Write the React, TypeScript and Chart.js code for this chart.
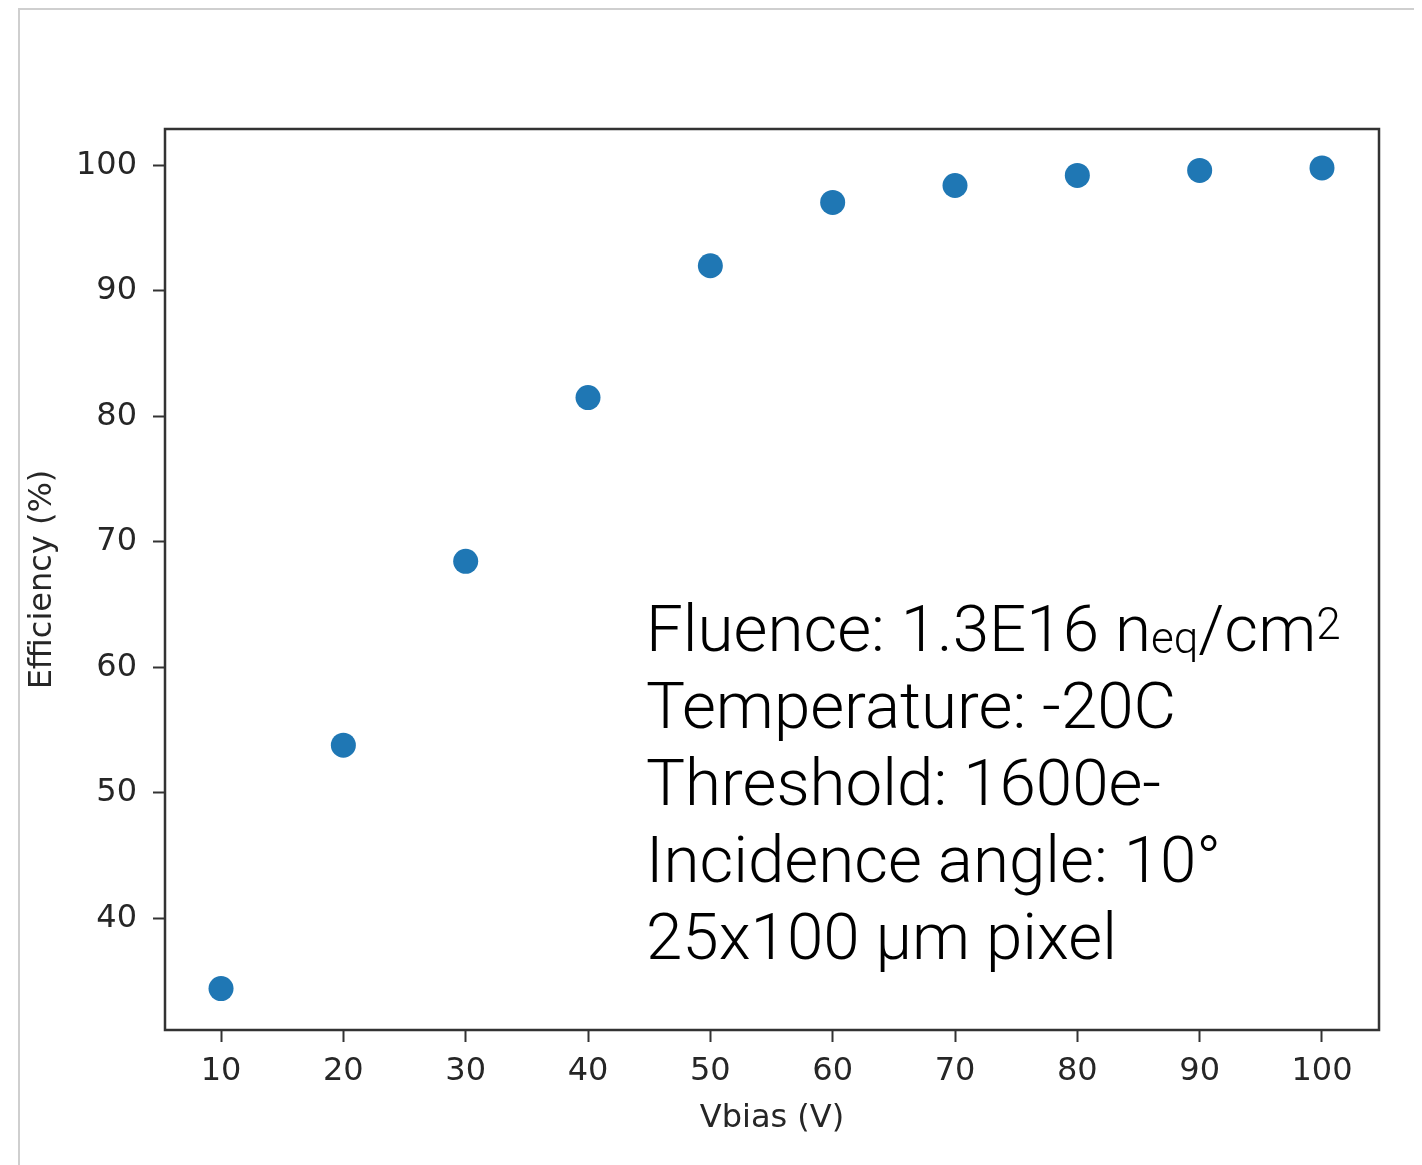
import React, { useEffect, useRef } from "react";
import { Chart, registerables } from "chart.js";

Chart.register(...registerables);

const vbias = [10, 20, 30, 40, 50, 60, 70, 80, 90, 100];
const efficiency = [34.4, 53.8, 68.45, 81.5, 92.0, 97.05, 98.4, 99.2, 99.6, 99.8];
const xTicks = [10, 20, 30, 40, 50, 60, 70, 80, 90, 100];
const yTicks = [40, 50, 60, 70, 80, 90, 100];
const xRange = [5.42, 104.66];
const yRange = [31.1, 102.9];
const xTitle = "Vbias (V)";
const yTitle = "Efficiency (%)";

const TEXT = "#262626";
const W = 1406;
const H = 1157;

const boxPlugin = {
  id: "box",
  afterDraw(chart: any) {
    const { ctx, chartArea } = chart;
    ctx.save();
    ctx.strokeStyle = "#333333";
    ctx.lineWidth = 2.5;
    ctx.strokeRect(chartArea.left, chartArea.top, chartArea.right - chartArea.left, chartArea.bottom - chartArea.top);
    ctx.restore();
  },
};

export default function App() {
  const ref = useRef<HTMLCanvasElement | null>(null);

  useEffect(() => {
    if (!ref.current) return;
    const chart = new Chart(ref.current, {
      type: "scatter",
      data: {
        datasets: [
          {
            data: vbias.map((x, i) => ({ x, y: efficiency[i] })),
            backgroundColor: "#1f77b4",
            borderColor: "#1f77b4",
            borderWidth: 0,
            pointRadius: 12.5,
            pointHoverRadius: 12.5,
            showLine: false,
          },
        ],
      },
      plugins: [boxPlugin],
      options: {
        animation: false,
        responsive: false,
        maintainAspectRatio: false,
        layout: { padding: { left: 0, top: 121, right: 35, bottom: 0 } },
        plugins: { legend: { display: false }, tooltip: { enabled: false } },
        scales: {
          x: {
            type: "linear",
            min: xRange[0],
            max: xRange[1],
            afterFit: (s: any) => {
              s.height = 135;
            },
            afterBuildTicks: (s: any) => {
              s.ticks = xTicks.map((v) => ({ value: v }));
            },
            border: { display: false },
            grid: {
              display: true,
              drawOnChartArea: false,
              drawTicks: true,
              tickLength: 12,
              tickColor: "#333333",
              tickWidth: 2,
            },
            ticks: {
              color: TEXT,
              padding: 10,
              maxRotation: 0,
              autoSkip: false,
              font: { family: "'DejaVu Sans'", size: 32 },
            },
            title: {
              display: true,
              text: xTitle,
              color: TEXT,
              font: { family: "'DejaVu Sans'", size: 32 },
              padding: { top: 0, bottom: 27 },
            },
          },
          y: {
            type: "linear",
            min: yRange[0],
            max: yRange[1],
            afterFit: (s: any) => {
              s.width = 157;
            },
            afterBuildTicks: (s: any) => {
              s.ticks = yTicks.map((v) => ({ value: v }));
            },
            border: { display: false },
            grid: {
              display: true,
              drawOnChartArea: false,
              drawTicks: true,
              tickLength: 12,
              tickColor: "#333333",
              tickWidth: 2,
            },
            ticks: {
              color: TEXT,
              padding: 16,
              autoSkip: false,
              font: { family: "'DejaVu Sans'", size: 32 },
            },
            title: {
              display: true,
              text: yTitle,
              color: TEXT,
              font: { family: "'DejaVu Sans'", size: 32 },
              padding: { top: 15, bottom: 0 },
            },
          },
        },
      },
    } as any);
    return () => chart.destroy();
  }, []);

  const lineStyle: React.CSSProperties = { height: 77, lineHeight: "77px", whiteSpace: "nowrap" };
  const small: React.CSSProperties = { fontSize: 44, lineHeight: 0 };

  return (
    <div style={{ position: "relative", width: W, height: H, overflow: "hidden" }}>
      <div
        style={{
          position: "absolute",
          left: 10,
          top: 0,
          width: W,
          height: H,
          borderTop: "2px solid #cfcfcf",
          borderLeft: "2px solid #cfcfcf",
          boxSizing: "border-box",
        }}
      />
      <canvas ref={ref} width={W} height={H} style={{ position: "absolute", left: 0, top: 0, width: W, height: H }} />
      <div
        style={{
          position: "absolute",
          left: 638,
          top: 582,
          fontFamily: "Roboto, 'Liberation Sans', sans-serif",
          fontWeight: 300,
          fontSize: 65.5,
          color: "#000",
        }}
      >
        <div style={lineStyle}>
          Fluence: 1.3E16 n<span style={{ ...small, verticalAlign: "-2px" }}>eq</span>/cm
          <span style={{ ...small, verticalAlign: "12px" }}>2</span>
        </div>
        <div style={lineStyle}>Temperature: -20C</div>
        <div style={lineStyle}>Threshold: 1600e-</div>
        <div style={lineStyle}>Incidence angle: 10°</div>
        <div style={lineStyle}>25x100 µm pixel</div>
      </div>
    </div>
  );
}
